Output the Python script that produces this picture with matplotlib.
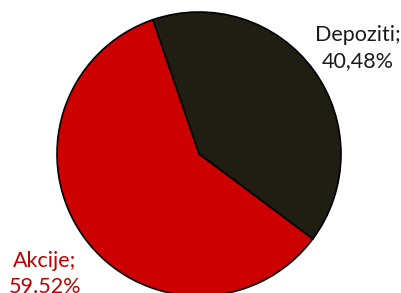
import matplotlib
matplotlib.use("Agg")
import matplotlib.pyplot as plt

labels = ["Depoziti", "Akcije"]
shares = [40.48, 59.52]
share_text = ["40,48%", "59.52%"]
colors = ["#201d13", "#cc0000"]
text_colors = ["#1a1a1a", "#c00000"]

fig = plt.figure(figsize=(4.01, 2.93), dpi=100)
fig.patch.set_facecolor("white")
ax = fig.add_axes([0, 0, 1, 1])

ax.pie(
    shares,
    colors=colors,
    startangle=109,
    counterclock=False,
    wedgeprops=dict(edgecolor="black", linewidth=1.2),
)

# pie radius is 142 px, centre at (199, 154) from top-left
r = 142.0
ax.set_xlim(-199 / r, (401 - 199) / r)
ax.set_ylim(-(293 - 154) / r, 154 / r)
ax.set_aspect("auto")
ax.axis("off")

label_pos = [(1.12, 0.745), (-1.085, -0.845)]
for lab, txt, col, (x, y) in zip(labels, share_text, text_colors, label_pos):
    ax.text(x, y, lab + ";\n" + txt, ha="center", va="center",
            color=col, fontsize=15.5, family="Lato", linespacing=1.4)

fig.savefig("out.png", dpi=100)
